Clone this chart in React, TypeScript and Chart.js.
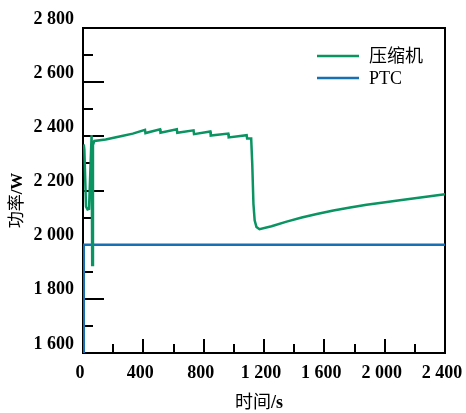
import React, { useEffect, useRef } from "react";
import { Chart, registerables } from "chart.js";

Chart.register(...registerables);

// Axis ranges and labelled ticks
const timeTicks = [0, 400, 800, 1200, 1600, 2000, 2400];
const powerTicks = [1600, 1800, 2000, 2200, 2400, 2600, 2800];

// Compressor power (W) over time (s)
const compressorTime = [
  5, 9, 20, 30, 40, 57, 61, 66, 75, 150, 250, 330, 411, 414, 511, 514, 622, 625,
  733, 736, 844, 847, 963, 966, 1085, 1088, 1115, 1122, 1130, 1138, 1150, 1170,
  1250, 1350, 1450, 1550, 1660, 1771, 1880, 1992, 2100, 2213, 2300, 2400,
];
const compressorPower = [
  2370, 2350, 2140, 2130, 2132, 2405, 1925, 2368, 2383, 2388, 2400, 2410, 2424,
  2412, 2426, 2413, 2426, 2413, 2422, 2408, 2418, 2403, 2410, 2396, 2404, 2392,
  2392, 2300, 2150, 2090, 2065, 2057, 2068, 2085, 2100, 2113, 2126, 2137, 2147,
  2156, 2164, 2172, 2179, 2186,
];

// PTC heater power (W) over time (s)
const ptcTime = [3, 5, 2400];
const ptcPower = [1600, 2000, 2000];

const seriesNames = ["压缩机", "PTC"];
const seriesColors = ["#0a9462", "#176fb4"];

const SERIF = '"Liberation Serif", "Times New Roman", "Noto Sans CJK SC", serif';

const fmt = (n: number) =>
  n >= 1000 ? `${Math.floor(n / 1000)} ${String(n % 1000).padStart(3, "0")}` : String(n);

const zip = (xs: number[], ys: number[]) => xs.map((x, i) => ({ x, y: ys[i] }));

// Frame with inward major/minor ticks, axis titles and legend
const framePlugin = {
  id: "frameTicks",
  beforeDatasetsDraw(chart: any) {
    const { ctx, chartArea: a, scales } = chart;
    const xs = scales.x;
    const ys = scales.y;
    ctx.save();
    ctx.strokeStyle = "#000";
    ctx.lineWidth = 2;
    ctx.strokeRect(a.left, a.top, a.right - a.left, a.bottom - a.top);
    ctx.beginPath();
    for (let t = 200; t < 2400; t += 200) {
      const px = Math.round(xs.getPixelForValue(t));
      const len = t % 400 === 0 ? 14 : 9;
      ctx.moveTo(px, a.bottom);
      ctx.lineTo(px, a.bottom - len);
    }
    for (let v = 1700; v < 2800; v += 100) {
      const py = Math.round(ys.getPixelForValue(v));
      const len = v % 200 === 0 ? 21 : 10;
      ctx.moveTo(a.left, py);
      ctx.lineTo(a.left + len, py);
    }
    ctx.stroke();
    ctx.restore();
  },
  afterDraw(chart: any) {
    const { ctx, chartArea: a } = chart;
    ctx.save();
    ctx.fillStyle = "#000";
    ctx.textBaseline = "middle";

    // x title: 时间/s
    const xCn = "时间";
    const xEn = "/s";
    ctx.font = `18px ${SERIF}`;
    const w1 = ctx.measureText(xCn).width;
    ctx.font = `bold 18px ${SERIF}`;
    const w2 = ctx.measureText(xEn).width;
    const xc = (a.left + a.right) / 2 - 5;
    let sx = xc - (w1 + w2) / 2;
    ctx.textAlign = "left";
    ctx.font = `18px ${SERIF}`;
    ctx.fillText(xCn, sx, 403);
    ctx.font = `bold 18px ${SERIF}`;
    ctx.fillText(xEn, sx + w1, 403);

    // y title: 功率/W
    const yCn = "功率";
    const yEn = "/W";
    ctx.translate(18, (a.top + a.bottom) / 2 + 10);
    ctx.rotate(-Math.PI / 2);
    ctx.font = `17px ${SERIF}`;
    const v1 = ctx.measureText(yCn).width;
    ctx.font = `bold 17px ${SERIF}`;
    const v2 = ctx.measureText(yEn).width;
    sx = -(v1 + v2) / 2;
    ctx.font = `17px ${SERIF}`;
    ctx.fillText(yCn, sx, 0);
    ctx.font = `bold 17px ${SERIF}`;
    ctx.fillText(yEn, sx + v1, 0);
    ctx.restore();

    // legend
    ctx.save();
    chart.data.datasets.forEach((ds: any, i: number) => {
      const y = 56 + i * 22;
      ctx.strokeStyle = ds.borderColor;
      ctx.lineWidth = 2.5;
      ctx.beginPath();
      ctx.moveTo(317, y);
      ctx.lineTo(359, y);
      ctx.stroke();
      ctx.fillStyle = "#000";
      ctx.font = `18px ${SERIF}`;
      ctx.textAlign = "left";
      ctx.textBaseline = "middle";
      ctx.fillText(ds.label, 369, y + 1);
    });
    ctx.restore();
  },
};

export default function App() {
  const canvasRef = useRef<HTMLCanvasElement | null>(null);

  useEffect(() => {
    const canvas = canvasRef.current;
    if (!canvas) return;
    const chart = new Chart(canvas, {
      type: "line",
      data: {
        datasets: [
          {
            label: seriesNames[0],
            data: zip(compressorTime, compressorPower),
            borderColor: seriesColors[0],
            borderWidth: 2.5,
            pointRadius: 0,
            tension: 0,
            fill: false,
          },
          {
            label: seriesNames[1],
            data: zip(ptcTime, ptcPower),
            borderColor: seriesColors[1],
            borderWidth: 2.5,
            pointRadius: 0,
            tension: 0,
            fill: false,
          },
        ],
      },
      options: {
        responsive: false,
        devicePixelRatio: 1,
        animation: false,
        layout: { padding: { left: 0, top: 28, right: 21, bottom: 0 } },
        plugins: {
          legend: { display: false },
          tooltip: { enabled: false },
        },
        scales: {
          x: {
            type: "linear",
            min: timeTicks[0],
            max: timeTicks[timeTicks.length - 1],
            afterFit: (s: any) => {
              s.height = 60;
              s.paddingLeft = 0;
              s.paddingRight = 0;
            },
            afterBuildTicks: (s: any) => {
              s.ticks = timeTicks.map((v) => ({ value: v }));
            },
            grid: { display: false, drawTicks: false },
            border: { display: false },
            ticks: {
              autoSkip: false,
              maxRotation: 0,
              padding: 10,
              labelOffset: -3,
              color: "#000",
              font: { family: SERIF, size: 18, weight: "bold" },
              callback: (v: any) => fmt(Number(v)),
            },
          },
          y: {
            type: "linear",
            min: powerTicks[0],
            max: powerTicks[powerTicks.length - 1],
            afterFit: (s: any) => {
              s.width = 83;
              s.paddingTop = 0;
              s.paddingBottom = 0;
            },
            afterBuildTicks: (s: any) => {
              s.ticks = powerTicks.map((v) => ({ value: v }));
            },
            grid: { display: false, drawTicks: false },
            border: { display: false },
            ticks: {
              autoSkip: false,
              padding: 9,
              labelOffset: -9,
              color: "#000",
              font: { family: SERIF, size: 18, weight: "bold" },
              callback: (v: any) => fmt(Number(v)),
            },
          },
        },
      },
      plugins: [framePlugin],
    } as any);
    return () => chart.destroy();
  }, []);

  return (
    <div style={{ position: "fixed", left: 0, top: 0, width: 466, height: 413, background: "#fff" }}>
      <canvas ref={canvasRef} width={466} height={413} />
    </div>
  );
}
